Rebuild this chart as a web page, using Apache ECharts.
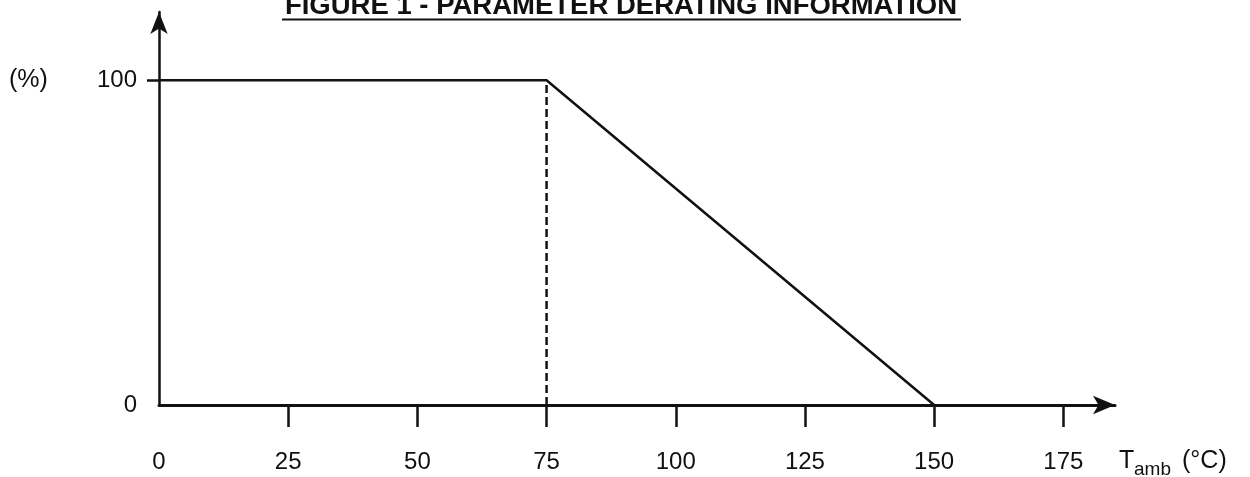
<!DOCTYPE html>
<html>
<head>
<meta charset="utf-8">
<script src="https://cdn.jsdelivr.net/npm/echarts@6/dist/echarts.min.js"></script>
<style>
html,body{margin:0;padding:0;background:#fff;}
#c{width:1250px;height:477px;}
</style>
</head>
<body>
<div id="c"></div>
<script>
// Data
const temps = [0, 75, 150];
const derating = [100, 100, 0];
const kneeTemps = [75, 75];
const kneeValues = [0, 100];
const xTickValues = [25, 50, 75, 100, 125, 150, 175];
const xLabelValues = [0, 25, 50, 75, 100, 125, 150, 175];
const yTickValues = [100];
const yLabelValues = [0, 100];

const ink = '#111';
const FONT = 'Liberation Sans, Arial, sans-serif';

const chart = echarts.init(document.getElementById('c'), null, {renderer: 'canvas'});
chart.setOption({
  backgroundColor: '#fff',
  animation: false,
  grid: {left: 159, right: 135, top: 12, bottom: 72},
  xAxis: {
    type: 'value', min: 0, max: 185,
    splitLine: {show: false},
    axisLine: {show: true, symbol: ['none', 'arrow'], symbolSize: [14, 22], lineStyle: {color: ink, width: 3}},
    axisTick: {show: true, customValues: xTickValues, length: 22, lineStyle: {color: ink, width: 2.5}},
    axisLabel: {customValues: xLabelValues, margin: 45, color: ink, fontSize: 24, fontFamily: FONT}
  },
  yAxis: {
    type: 'value', min: 0, max: 121,
    splitLine: {show: false},
    axisLine: {show: true, symbol: ['none', 'arrow'], symbolSize: [13, 22], lineStyle: {color: ink, width: 2.5}},
    axisTick: {show: true, customValues: yTickValues, length: 12, lineStyle: {color: ink, width: 2.5}},
    axisLabel: {customValues: yLabelValues, margin: 22, color: ink, fontSize: 24, fontFamily: FONT}
  },
  series: [
    {
      type: 'line', data: temps.map((t, i) => [t, derating[i]]),
      symbol: 'none', lineStyle: {color: ink, width: 2.5}, z: 3
    },
    {
      type: 'line', data: kneeTemps.map((t, i) => [t, kneeValues[i]]),
      symbol: 'none', lineStyle: {color: ink, width: 2.5, type: [8, 4]}, z: 2
    }
  ],
  graphic: [
    {type: 'text', x: 9, y: 80, style: {text: '(%)', fontSize: 25, fontFamily: FONT, fill: ink, textVerticalAlign: 'middle'}},
    {type: 'text', x: 621, y: 6, style: {text: 'FIGURE 1 - PARAMETER DERATING INFORMATION', fontSize: 27.5, fontWeight: 'bold', fontFamily: FONT, fill: ink, textAlign: 'center', textVerticalAlign: 'middle'}},
    {type: 'line', shape: {x1: 282, y1: 19.5, x2: 961, y2: 19.5}, style: {stroke: ink, lineWidth: 2}},
    {type: 'text', x: 1119, y: 461, style: {text: 'T', fontSize: 25, fontFamily: FONT, fill: ink, textVerticalAlign: 'middle'}},
    {type: 'text', x: 1134, y: 470, style: {text: 'amb', fontSize: 19, fontFamily: FONT, fill: ink, textVerticalAlign: 'middle'}},
    {type: 'text', x: 1182, y: 461, style: {text: '(°C)', fontSize: 25, fontFamily: FONT, fill: ink, textVerticalAlign: 'middle'}}
  ]
});
</script>
</body>
</html>
